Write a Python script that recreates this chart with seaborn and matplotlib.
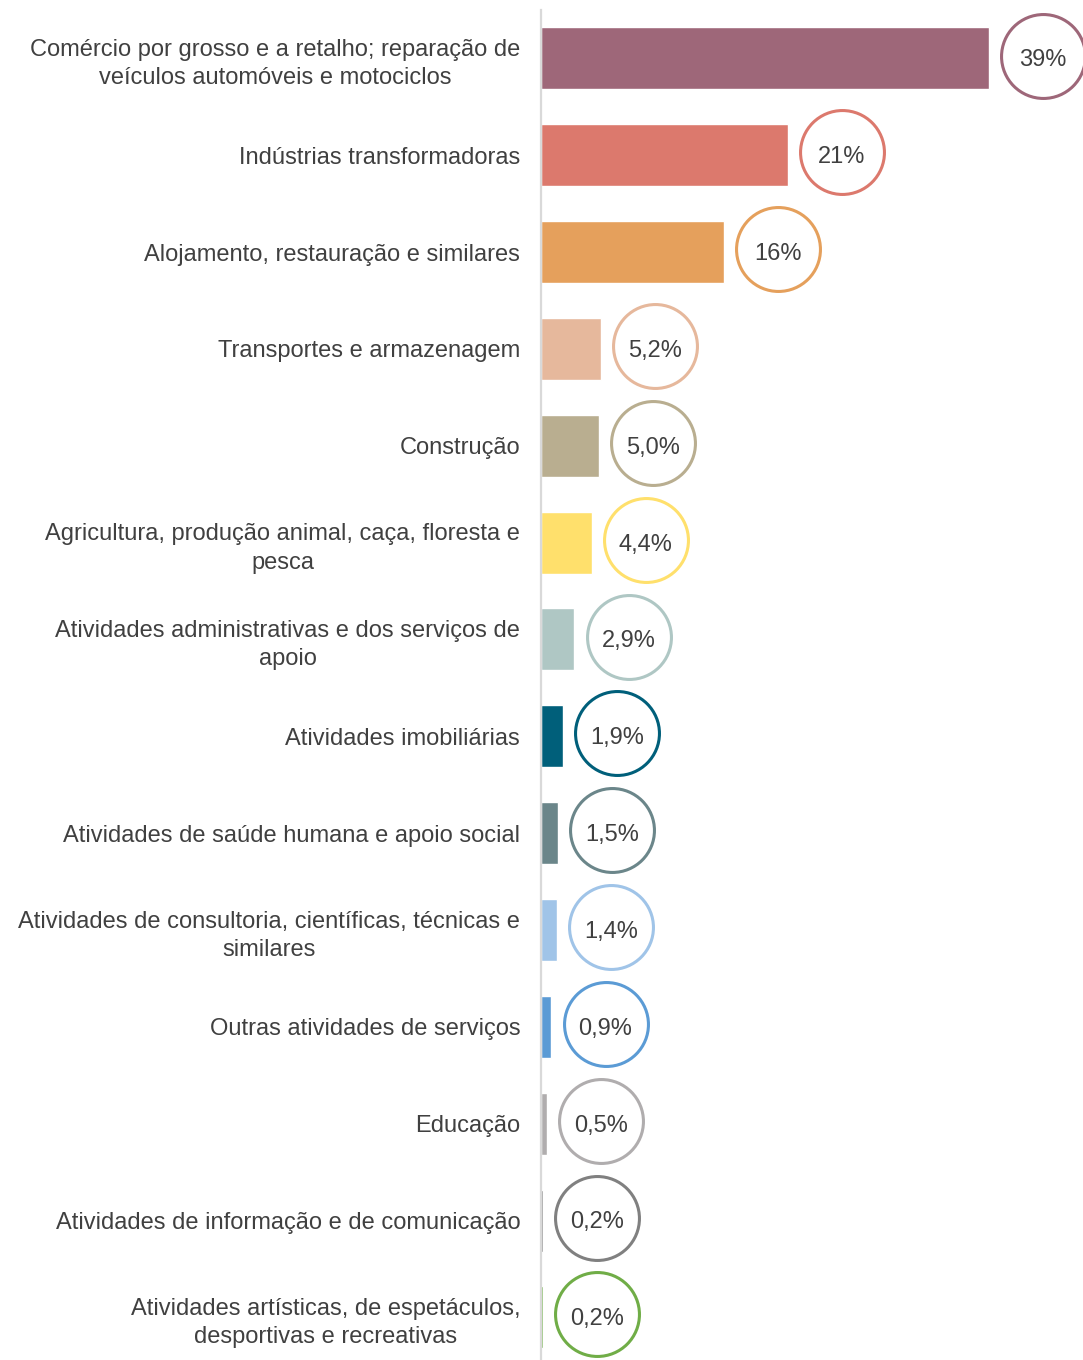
import pandas as pd
import matplotlib.pyplot as plt
import seaborn as sns

sns.set_style("white")
plt.rcParams['font.family'] = ['Liberation Sans', 'DejaVu Sans']

# Data
sectors = [
    "Comércio por grosso e a retalho; reparação de\nveículos automóveis e motociclos",
    "Indústrias transformadoras",
    "Alojamento, restauração e similares",
    "Transportes e armazenagem",
    "Construção",
    "Agricultura, produção animal, caça, floresta e\npesca",
    "Atividades administrativas e dos serviços de\napoio",
    "Atividades imobiliárias",
    "Atividades de saúde humana e apoio social",
    "Atividades de consultoria, científicas, técnicas e\nsimilares",
    "Outras atividades de serviços",
    "Educação",
    "Atividades de informação e de comunicação",
    "Atividades artísticas, de espetáculos,\ndesportivas e recreativas",
]
shares = [38.9, 21.4, 15.9, 5.2, 5.0, 4.4, 2.9, 1.9, 1.5, 1.4, 0.9, 0.5, 0.2, 0.2]
colors = ["#9E6779", "#DC796D", "#E5A05C", "#E6B89C", "#B9AE90", "#FFE06C",
          "#AFC7C4", "#005F7A", "#6B868A", "#A0C4E8", "#5B9BD5", "#B0ADAE",
          "#808080", "#70AD47"]

df = pd.DataFrame({"Setor": sectors, "Peso": shares})
palette = dict(zip(sectors, colors))

fig = plt.figure(figsize=(10.83, 13.6), dpi=100)
ax = fig.add_axes([541 / 1083, 0, 542 / 1083, 1350 / 1360])

sns.barplot(data=df, x="Peso", y="Setor", hue="Setor", palette=palette,
            order=sectors, legend=False, width=0.64, saturation=1, ax=ax)

ax.set_xlim(0, 47.05)
ax.set_ylim(13.44, -0.5)
ax.set_xlabel("")
ax.set_ylabel("")
ax.set_xticks([])
ax.tick_params(axis="y", length=0, pad=15)
for lbl in ax.get_yticklabels():
    lbl.set_fontsize(17)
    lbl.set_color("#404040")
    lbl.set_multialignment("center")
    lbl.set_linespacing(1.38)

for side in ["top", "right", "bottom"]:
    ax.spines[side].set_visible(False)
ax.spines["left"].set_color("#D9D9D9")
ax.spines["left"].set_linewidth(1.6)

# circled value labels
offset = 4.7
for i, (v, c) in enumerate(zip(shares, colors)):
    ax.scatter(v + offset, i - 0.03, s=3650, facecolor="white", edgecolor=c,
               linewidth=2.2, zorder=3, clip_on=False)
    txt = f"{v:.0f}%" if v >= 10 else f"{v:.1f}%".replace(".", ",")
    ax.text(v + offset, i + 0.02, txt, ha="center", va="center",
            fontsize=17, color="#404040", zorder=4, clip_on=False)

fig.savefig("out.png", dpi=100)
